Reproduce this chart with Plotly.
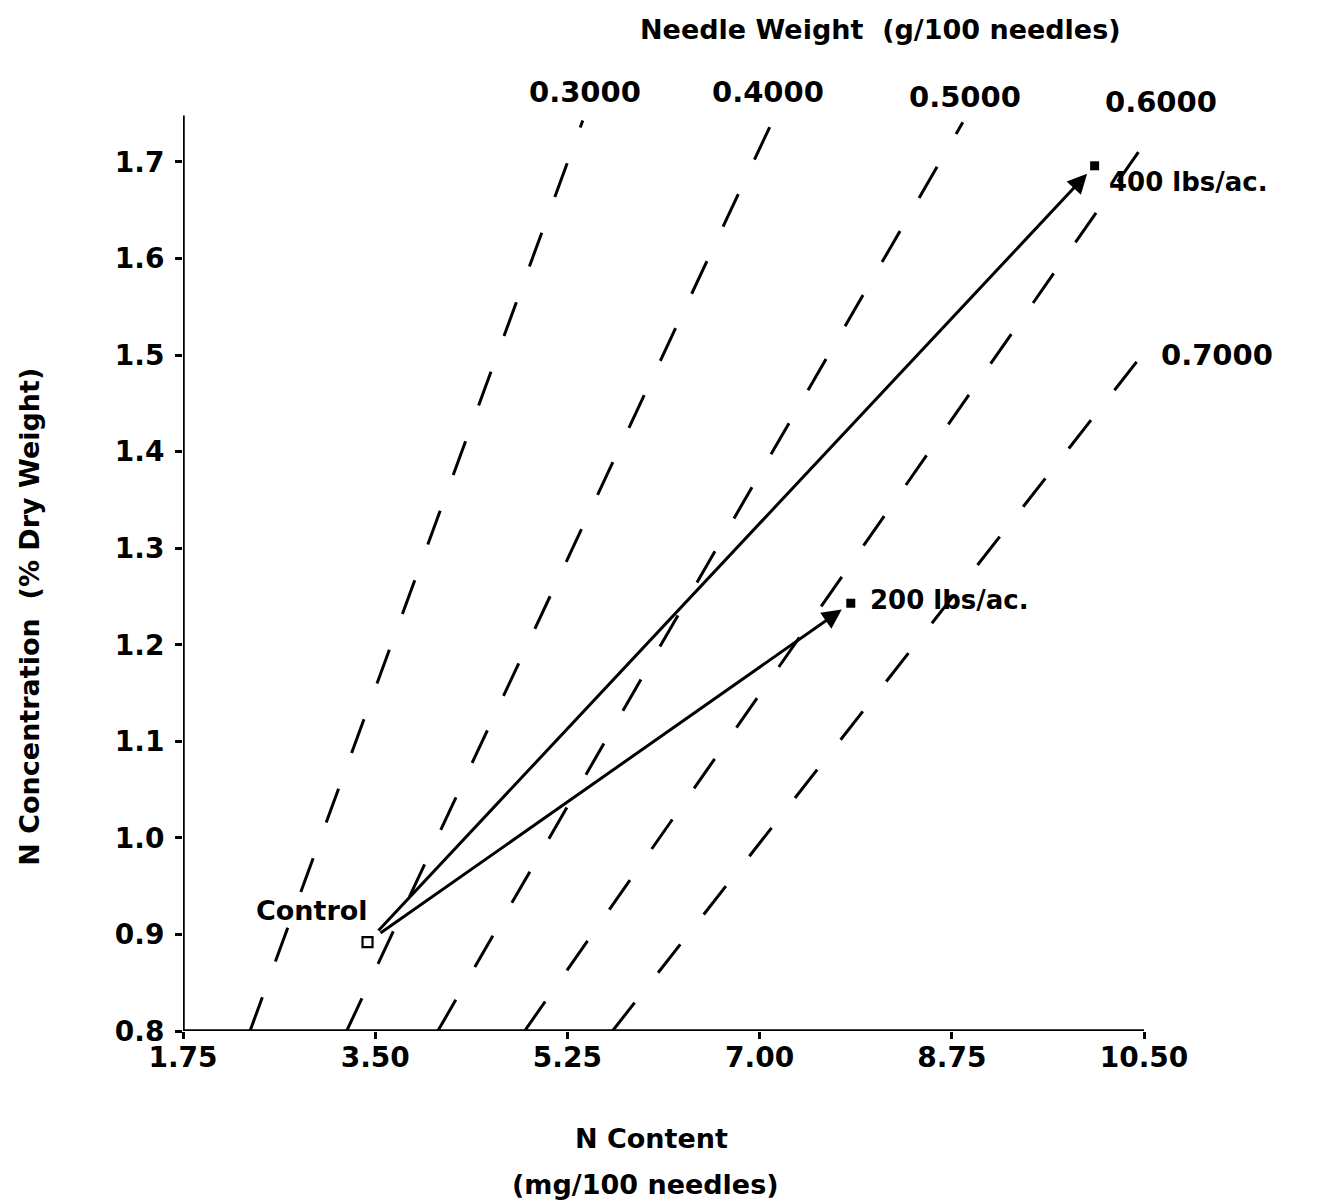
import plotly.graph_objects as go

# ---- data ----
needle_weights = ["0.3000", "0.4000", "0.5000", "0.6000", "0.7000"]
iso_x_start = [2.36, 3.24, 4.07, 4.86, 5.66]
iso_y_start = [0.80, 0.80, 0.80, 0.80, 0.80]
iso_x_end = [5.39, 7.12, 8.85, 10.62, 10.55]
iso_y_end = [1.743, 1.743, 1.741, 1.738, 1.51]

treatments = ["Control", "200 lbs/ac.", "400 lbs/ac."]
n_content = [3.43, 7.83, 10.05]
n_conc = [0.892, 1.243, 1.696]

x_ticks = [1.75, 3.50, 5.25, 7.00, 8.75, 10.50]
x_tick_text = ["1.75", "3.50", "5.25", "7.00", "8.75", "10.50"]
y_ticks = [0.8, 0.9, 1.0, 1.1, 1.2, 1.3, 1.4, 1.5, 1.6, 1.7]
y_tick_text = ["0.8", "0.9", "1.0", "1.1", "1.2", "1.3", "1.4", "1.5", "1.6", "1.7"]

FONT = "DejaVu Sans"
BLACK = "#000000"
X_RANGE = [1.75, 10.70]
Y_RANGE = [0.8, 1.76]


def px(x):
    return (x - X_RANGE[0]) / (X_RANGE[1] - X_RANGE[0])


def py(y):
    return (y - Y_RANGE[0]) / (Y_RANGE[1] - Y_RANGE[0])


fig = go.Figure()

# isolines of constant needle weight
for i, w in enumerate(needle_weights):
    fig.add_trace(go.Scatter(
        x=[iso_x_start[i], iso_x_end[i]],
        y=[iso_y_start[i], iso_y_end[i]],
        mode="lines",
        line=dict(color=BLACK, width=3, dash="36px,38px"),
        hoverinfo="skip", showlegend=False,
    ))

# treatment points
fig.add_trace(go.Scatter(
    x=n_content[:1], y=n_conc[:1], mode="markers",
    marker=dict(symbol="square-open", size=10, color=BLACK, line=dict(width=2.2, color=BLACK)),
    showlegend=False, cliponaxis=False,
))
fig.add_trace(go.Scatter(
    x=n_content[1:], y=n_conc[1:], mode="markers",
    marker=dict(symbol="square", size=9, color=BLACK),
    showlegend=False, cliponaxis=False,
))

annotations = []
# arrows from control to treatments
for i in (1, 2):
    annotations.append(dict(
        x=n_content[i], y=n_conc[i], ax=n_content[0], ay=n_conc[0],
        xref="x", yref="y", axref="x", ayref="y", text="",
        showarrow=True, arrowhead=2, arrowsize=1.3, arrowwidth=3,
        arrowcolor=BLACK, standoff=11, startstandoff=14,
    ))


def txt(text, x, y, size, xanchor="center", **kw):
    d = dict(text=text, x=px(x), y=py(y), xref="paper", yref="paper", showarrow=False,
             xanchor=xanchor, yanchor="middle",
             font=dict(family=FONT, size=size, color=BLACK, weight="bold"))
    d.update(kw)
    return d


# point labels
annotations.append(txt(treatments[0], 2.92, 0.925, 27))
annotations.append(txt(treatments[1], 7.99, 1.246, 26, xanchor="left"))
annotations.append(txt(treatments[2], 10.16, 1.679, 26, xanchor="left"))

# isoline labels
iso_label_pos = [(5.41, 1.772), (7.08, 1.772), (8.87, 1.767), (10.65, 1.762), (11.16, 1.500)]
for w, (lx, ly) in zip(needle_weights, iso_label_pos):
    annotations.append(txt(w, lx, ly, 29))

# titles
annotations.append(txt("Needle Weight  (g/100 needles)", 8.10, 1.837, 27))
annotations.append(txt("N Content", 6.02, 0.689, 27))
annotations.append(txt("(mg/100 needles)", 5.96, 0.641, 27))
annotations.append(txt("N Concentration  (% Dry Weight)", 0.357, 1.229, 27, textangle=-90))

fig.update_layout(
    width=1333, height=1204,
    margin=dict(l=175, r=175, t=96, b=181),
    paper_bgcolor="white", plot_bgcolor="white",
    annotations=annotations,
    shapes=[
        dict(type="line", xref="x", yref="y", x0=1.75, y0=0.8, x1=10.5, y1=0.8,
             line=dict(color=BLACK, width=3.5)),
        dict(type="line", xref="x", yref="y", x0=1.75, y0=0.8, x1=1.75, y1=1.748,
             line=dict(color=BLACK, width=3.5)),
    ],
    xaxis=dict(range=X_RANGE, showgrid=False, zeroline=False, showline=False,
               tickmode="array", tickvals=x_ticks, ticktext=x_tick_text,
               ticks="outside", ticklen=7, tickwidth=2.5, tickcolor=BLACK,
               ticklabelstandoff=-6,
               tickfont=dict(family=FONT, size=28, color=BLACK, weight="bold")),
    yaxis=dict(range=Y_RANGE, showgrid=False, zeroline=False, showline=False,
               tickmode="array", tickvals=y_ticks, ticktext=y_tick_text,
               ticks="outside", ticklen=7, tickwidth=2.5, tickcolor=BLACK,
               ticklabelstandoff=5,
               tickfont=dict(family=FONT, size=28, color=BLACK, weight="bold")),
)

fig.write_html("out.html")
